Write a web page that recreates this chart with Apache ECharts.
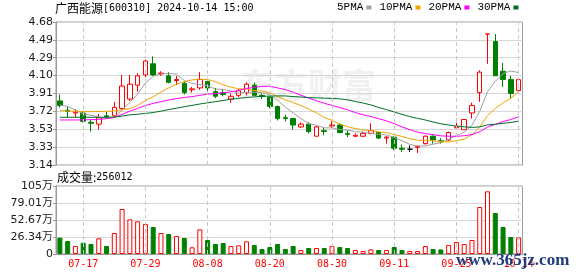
<!DOCTYPE html>
<html><head><meta charset="utf-8">
<script src="https://cdn.jsdelivr.net/npm/echarts@6/dist/echarts.min.js"></script>
<style>html,body{margin:0;padding:0;background:#fff}#c{width:578px;height:276px}</style>
</head><body><div id="c"></div>
<script>
const dates = ['07-12','07-15','07-16','07-17','07-18','07-19','07-22','07-23','07-24','07-25','07-26','07-29','07-30','07-31',
 '08-01','08-02','08-05','08-06','08-07','08-08','08-09','08-12','08-13','08-14','08-15','08-16','08-19','08-20','08-21','08-22','08-23','08-26','08-27','08-28','08-29','08-30',
 '09-02','09-03','09-04','09-05','09-06','09-09','09-10','09-11','09-12','09-13','09-18','09-19','09-20','09-23','09-24','09-25','09-26','09-27','09-30',
 '10-08','10-09','10-10','10-11','10-14'];
const opens = [3.83,3.73,3.70,3.70,3.60,3.58,3.67,3.67,3.75,3.85,
 4.00,4.11,4.23,4.12,4.10,4.05,4.02,3.95,3.97,4.04,
 3.93,3.92,3.85,3.89,3.92,4.00,3.89,3.87,3.77,3.65,
 3.64,3.55,3.58,3.45,3.51,3.56,3.57,3.48,3.45,3.45,
 3.48,3.49,3.43,3.44,3.32,3.31,3.33,3.37,3.45,3.40,
 3.41,3.54,3.52,3.70,3.92,4.55,4.47,4.15,4.06,3.94];
const closes = [3.78,3.72,3.71,3.61,3.59,3.65,3.66,3.76,3.99,4.01,
 4.10,4.26,4.11,4.13,4.03,4.06,3.92,3.96,4.06,3.97,
 3.88,3.90,3.88,3.94,4.01,3.89,3.88,3.77,3.64,3.64,
 3.57,3.58,3.50,3.55,3.50,3.57,3.49,3.47,3.46,3.48,
 3.51,3.43,3.44,3.32,3.31,3.31,3.34,3.45,3.41,3.39,
 3.49,3.55,3.63,3.78,4.14,4.55,4.10,4.06,3.91,4.06];
const lows = [3.76,3.65,3.65,3.60,3.50,3.52,3.64,3.65,3.73,3.83,
 3.93,4.05,4.10,4.10,4.02,4.00,3.90,3.92,3.95,3.93,
 3.86,3.88,3.81,3.87,3.89,3.89,3.85,3.75,3.62,3.61,
 3.52,3.54,3.48,3.45,3.46,3.54,3.48,3.44,3.44,3.44,
 3.47,3.42,3.37,3.30,3.28,3.28,3.27,3.36,3.37,3.37,
 3.40,3.52,3.52,3.64,3.82,4.23,4.10,3.98,3.86,3.93];
const highs = [3.90,3.77,3.74,3.72,3.63,3.69,3.71,3.82,4.11,4.11,
 4.13,4.29,4.31,4.15,4.14,4.10,4.04,3.98,4.14,4.05,
 3.97,3.96,3.91,3.96,4.03,4.03,3.91,3.88,3.78,3.68,
 3.64,3.60,3.60,3.56,3.54,3.61,3.59,3.51,3.48,3.50,
 3.59,3.50,3.45,3.45,3.36,3.35,3.35,3.46,3.46,3.43,
 3.50,3.64,3.63,3.81,4.16,4.55,4.55,4.24,4.10,4.07];
const volumes = [25.3,20.1,12.4,17.5,15.5,24.3,12.4,32.5,69.7,53.7,
 50.6,46.5,41.8,32.5,31.0,27.9,24.8,10.4,38.2,21.7,
 15.5,17.0,12.4,13.4,19.6,13.9,7.7,10.8,15.5,7.7,
 12.4,6.2,9.3,9.3,9.3,12.4,10.8,9.3,6.2,4.6,
 7.2,6.2,6.2,10.8,6.2,4.6,4.6,12.4,7.7,7.0,
 13.9,18.6,15.5,21.7,72.8,97.1,63.5,41.8,26.3,25.6];
const ma5 = [3.786,3.77,3.732,3.69,3.675,3.656,3.644,3.654,3.73,3.814,3.904,4.024,4.094,4.122,4.126,4.118,4.05,4.02,4.006,3.994,
 3.958,3.954,3.938,3.914,3.922,3.924,3.92,3.898,3.838,3.764,3.70,3.64,3.586,3.568,3.54,3.54,3.522,3.516,3.498,3.494,
 3.482,3.47,3.464,3.436,3.402,3.362,3.344,3.346,3.364,3.38,3.416,3.458,3.494,3.568,3.718,3.93,4.04,4.126,4.152,4.136];
const ma10 = [3.725,3.722,3.718,3.714,3.714,3.716,3.718,3.722,3.735,3.748,3.78,3.834,3.874,3.926,3.97,4.011,4.037,4.057,4.064,4.06,
 4.038,4.002,3.979,3.96,3.958,3.941,3.937,3.918,3.876,3.843,3.812,3.78,3.742,3.703,3.652,3.62,3.581,3.551,3.533,3.517,
 3.511,3.496,3.49,3.467,3.448,3.422,3.407,3.405,3.40,3.391,3.389,3.401,3.42,3.466,3.549,3.673,3.749,3.81,3.86,3.927];
const ma20 = [3.625,3.625,3.625,3.626,3.628,3.632,3.638,3.654,3.685,3.72,3.75,3.78,3.804,3.822,3.84,3.855,3.867,3.877,3.89,3.904,
 3.909,3.918,3.927,3.943,3.964,3.976,3.987,3.988,3.97,3.952,3.925,3.891,3.861,3.832,3.805,3.781,3.759,3.735,3.705,3.68,
 3.662,3.638,3.616,3.585,3.55,3.521,3.494,3.478,3.467,3.454,3.45,3.449,3.455,3.467,3.499,3.548,3.578,3.608,3.63,3.659];
const ma30 = [3.654,3.654,3.654,3.654,3.654,3.654,3.654,3.656,3.667,3.68,3.687,3.695,3.705,3.72,3.737,3.752,3.767,3.782,3.797,3.81,
 3.822,3.835,3.848,3.858,3.867,3.874,3.879,3.882,3.884,3.884,3.877,3.872,3.865,3.863,3.86,3.857,3.852,3.842,3.824,3.807,
 3.787,3.759,3.737,3.71,3.686,3.661,3.642,3.625,3.603,3.584,3.571,3.559,3.551,3.545,3.55,3.572,3.579,3.589,3.598,3.612];
const priceTicks = ['3.14','3.33','3.53','3.72','3.91','4.10','4.29','4.49','4.68'];
const priceMin = 3.14, priceMax = 4.68, priceStep = 0.1925;
const volTicks = ['0','26.34万','52.67万','79.01万','105万'];
const volMax = 105.35, volStep = 26.3375;
const labelDates = ['07-17','07-29','08-08','08-20','08-30','09-11','09-25','10-14'];
const stockTitle = '广西能源';
const stockInfo = '[600310] 2024-10-14 15:00';
const volLabel = '成交量:';
const volNow = '256012';

const RED = '#ff0000', GREEN = '#008000', FLAT = '#000000';
function dir(i) {
  if (closes[i] > opens[i]) return 1;
  if (closes[i] < opens[i]) return -1;
  if (i === 0) return 1;
  if (closes[i] === closes[i-1]) return 0;
  return closes[i] > closes[i-1] ? 1 : -1;
}
const kData = dates.map((d, i) => {
  const item = { value: [opens[i], closes[i], lows[i], highs[i]] };
  if (dir(i) === 0) item.itemStyle = { color: FLAT, color0: FLAT, borderColor: FLAT, borderColor0: FLAT };
  return item;
});
const volData = volumes.map((v, i) => {
  const up = dir(i) >= 0;
  return { value: v, itemStyle: up ? { color: '#fff', borderColor: RED, borderWidth: 1 } : { color: GREEN, borderColor: GREEN, borderWidth: 1 } };
});
const vLines = { silent: true, symbol: 'none', animation: false, label: { show: false },
  lineStyle: { color: '#c8c8c8', type: [4, 3], width: 1 }, emphasis: { disabled: true },
  data: labelDates.map(d => ({ xAxis: d })) };

const axisFont = 'DejaVu Sans, "Noto Sans CJK SC", sans-serif';
const chart = echarts.init(document.getElementById('c'));
chart.setOption({
  animation: false,
  backgroundColor: '#fff',
  title: [
    { text: '{a|' + stockTitle + '}{b|' + stockInfo + '}', left: 55, top: 1, padding: 0,
      textStyle: { fontWeight: 'normal', rich: { a: { fontSize: 12, fontWeight: 'normal', fontFamily: 'Noto Sans CJK SC', color: '#000', lineHeight: 15 },
                           b: { fontSize: 10, fontWeight: 'normal', fontFamily: 'DejaVu Sans Mono', color: '#000', lineHeight: 15 } } } },
    { text: '{a|' + volLabel + '}{b|' + volNow + '}', left: 57, top: 170, padding: 0,
      textStyle: { fontWeight: 'normal', rich: { a: { fontSize: 12, fontWeight: 'normal', fontFamily: 'Noto Sans CJK SC', color: '#000', lineHeight: 14 },
                           b: { fontSize: 10, fontWeight: 'normal', fontFamily: 'DejaVu Sans Mono', color: '#000', lineHeight: 14 } } } }
  ],
  legend: { data: ['5PMA','10PMA','20PMA','30PMA'], left: 337, top: 2, align: 'right', icon: 'rect',
    itemWidth: 5, itemHeight: 4, itemGap: 8, padding: 0,
    textStyle: { fontFamily: 'Liberation Mono', fontSize: 11, color: '#000', padding: [0, -2, 0, 0] } },
  grid: [
    { left: 56, right: 55.5, top: 22, height: 143, show: true, borderColor: '#999', borderWidth: 1 },
    { left: 56, right: 55.5, top: 186, height: 68, show: true, borderColor: '#999', borderWidth: 1 }
  ],
  xAxis: [
    { type: 'category', gridIndex: 0, data: dates, boundaryGap: true, axisLine: { show: false }, axisTick: { show: false },
      axisLabel: { show: false }, splitLine: { show: false } },
    { type: 'category', gridIndex: 1, data: dates, boundaryGap: true, axisLine: { lineStyle: { color: '#999' } }, axisTick: { show: false },
      axisLabel: { interval: (i, v) => labelDates.includes(v), color: RED, fontFamily: 'DejaVu Sans Mono', fontSize: 10, margin: 5 },
      splitLine: { show: false } }
  ],
  yAxis: [
    { type: 'value', gridIndex: 0, min: priceMin, max: priceMax, interval: priceStep,
      axisLine: { show: true, lineStyle: { color: '#999' } }, axisTick: { show: true, length: 3, lineStyle: { color: '#999' } },
      axisLabel: { formatter: v => priceTicks[Math.round((v - priceMin) / priceStep)], color: '#1a1a1a', fontFamily: axisFont, fontSize: 11, margin: 3 },
      splitLine: { lineStyle: { color: '#d6d6d6' } } },
    { type: 'value', gridIndex: 1, min: 0, max: volMax, interval: volStep,
      axisLine: { show: true, lineStyle: { color: '#999' } }, axisTick: { show: true, length: 3, lineStyle: { color: '#999' } },
      axisLabel: { formatter: v => volTicks[Math.round(v / volStep)], color: '#1a1a1a', fontFamily: axisFont, fontSize: 11, margin: 3 },
      splitLine: { lineStyle: { color: '#d6d6d6' } } }
  ],
  graphic: [
    { type: 'text', left: 240, top: 68, z: 0, silent: true,
      style: { text: '东方财富', font: 'bold 34px "Noto Sans CJK SC"', fill: 'rgba(0,0,0,0.06)' } },
    { type: 'text', x: 456, y: 261, z: 100, silent: true,
      style: { text: 'www.365jz.com', font: 'bold 17px "Liberation Serif"', fill: '#1e3c7a', verticalAlign: 'middle' } }
  ],
  series: [
    { name: 'K', type: 'candlestick', xAxisIndex: 0, yAxisIndex: 0, data: kData, barWidth: 5,
      itemStyle: { color: '#fff', color0: GREEN, borderColor: RED, borderColor0: GREEN, borderWidth: 1 },
      markLine: vLines },
    { name: '5PMA', type: 'line', xAxisIndex: 0, yAxisIndex: 0, data: ma5, symbol: 'none', color: '#a0a0a0', lineStyle: { width: 1 } },
    { name: '10PMA', type: 'line', xAxisIndex: 0, yAxisIndex: 0, data: ma10, symbol: 'none', color: '#f5a300', lineStyle: { width: 1 } },
    { name: '20PMA', type: 'line', xAxisIndex: 0, yAxisIndex: 0, data: ma20, symbol: 'none', color: '#ff00ff', lineStyle: { width: 1 } },
    { name: '30PMA', type: 'line', xAxisIndex: 0, yAxisIndex: 0, data: ma30, symbol: 'none', color: '#006f28', lineStyle: { width: 1 } },
    { name: 'VOL', type: 'bar', xAxisIndex: 1, yAxisIndex: 1, data: volData, barWidth: 5, markLine: vLines }
  ]
});
</script></body></html>
